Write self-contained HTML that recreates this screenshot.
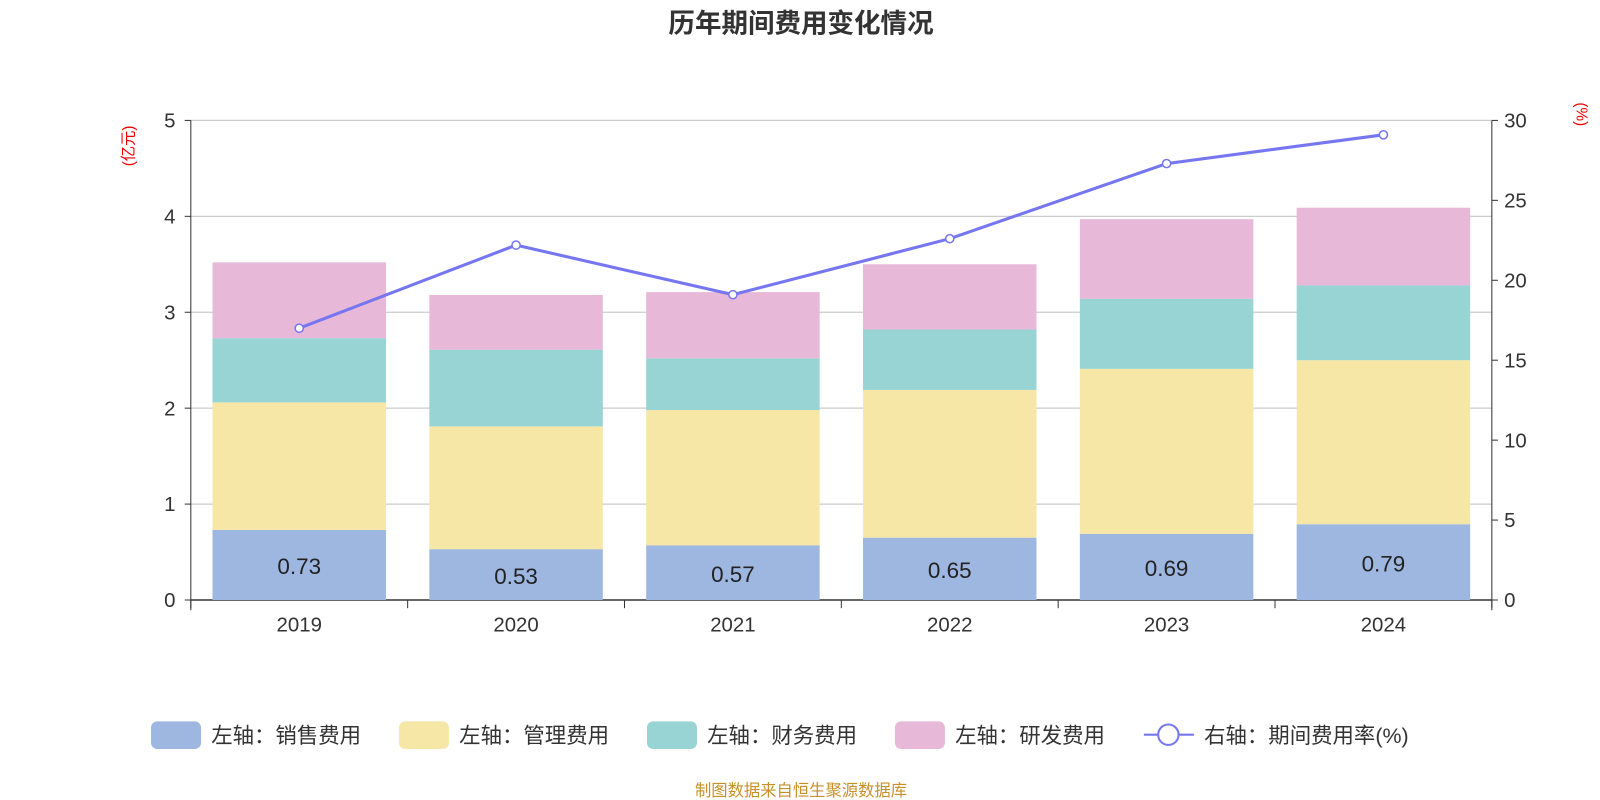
<!DOCTYPE html>
<html><head><meta charset="utf-8"><style>
html,body{margin:0;padding:0;background:#fff;}
svg{display:block;font-family:"Liberation Sans","Noto Sans CJK SC",sans-serif;}
</style></head><body>
<svg id="chart" width="1600" height="800" viewBox="0 0 1568 784"></svg>
<script>
const categories=["2019","2020","2021","2022","2023","2024"];
const sales=[0.73,0.53,0.57,0.65,0.69,0.79];
const admin=[1.33,1.28,1.41,1.54,1.72,1.71];
const finance=[0.67,0.80,0.54,0.63,0.73,0.78];
const rd=[0.79,0.57,0.69,0.68,0.83,0.81];
const rate=[17.0,22.2,19.1,22.6,27.3,29.1];
const leftTicks=[0,1,2,3,4,5];
const rightTicks=[0,5,10,15,20,25,30];

const NS="http://www.w3.org/2000/svg";
const svg=document.getElementById('chart');
const X0=187,X1=1462,Y0=588,Y1=118;
const bandW=(X1-X0)/categories.length;
const yL=v=>Y0-(v/5)*(Y0-Y1);
const yR=v=>Y0-(v/30)*(Y0-Y1);
const xC=i=>X0+bandW*(i+0.5);
function el(tag,attrs,parent){const e=document.createElementNS(NS,tag);for(const k in attrs)e.setAttribute(k,attrs[k]);(parent||svg).appendChild(e);return e;}
function txt(s,attrs){const t=el('text',attrs);t.textContent=s;return t;}

let t=txt("历年期间费用变化情况",{x:785,y:32,'text-anchor':'middle','font-size':26,'font-weight':'bold',fill:'#333'});



leftTicks.forEach(v=>{
  const g=el('line',{x1:X0,x2:X1,y1:yL(v),y2:yL(v),stroke:v===0?'#333':'#ccc','stroke-width':v===0?1.5:1.2});
  
  
  const l=txt(String(v),{x:172,y:yL(v)+7,'text-anchor':'end','font-size':20,fill:'#333'});
  
  
  el('line',{x1:X0-6,x2:X0,y1:yL(v),y2:yL(v),stroke:'#333'});
});
rightTicks.forEach(v=>{
  el('line',{x1:X1,x2:X1+6,y1:yR(v),y2:yR(v),stroke:'#333'});
  const l=txt(String(v),{x:1474,y:yR(v)+7,'font-size':20,fill:'#333'});
  
  
});
el('line',{x1:X0,x2:X0,y1:Y1,y2:Y0+10,stroke:'#333'});
el('line',{x1:X1,x2:X1,y1:Y1,y2:Y0+10,stroke:'#333'});
let a=txt("(亿元)",{x:0,y:0,'font-size':15,fill:'#e00','text-anchor':'middle',transform:'translate(131,143) rotate(-90)'});


a=txt("(%)",{x:0,y:0,'font-size':15,fill:'#e00','text-anchor':'middle',transform:'translate(1545,112) rotate(90)'});



for(let i=0;i<=categories.length;i++){el('line',{x1:X0+bandW*i,x2:X0+bandW*i,y1:Y0,y2:Y0+8,stroke:'#333'});}
categories.forEach((c,i)=>{
  const l=txt(c,{x:xC(i),y:619,'text-anchor':'middle','font-size':20,fill:'#333'});
  
  
});

const series=[[sales,'#9db7e0'],[admin,'#f7e7a7'],[finance,'#98d4d4'],[rd,'#e7b8d8']];
const barW=170;
categories.forEach((c,i)=>{
  let base=0;
  series.forEach(([arr,col],s)=>{
    const r=el('rect',{x:xC(i)-barW/2,y:yL(base+arr[i]),width:barW,height:yL(base)-yL(base+arr[i]),fill:col});
    
    
    base+=arr[i];
  });
  const l=txt(sales[i].toFixed(2),{x:xC(i),y:(yL(0)+yL(sales[i]))/2+9,'text-anchor':'middle','font-size':22,fill:'#222'});
  
  
});

const pl=el('polyline',{points:rate.map((v,i)=>xC(i)+','+yR(v)).join(' '),fill:'none',stroke:'#7576f0','stroke-width':3});


rate.forEach((v,i)=>{
  const c=el('circle',{cx:xC(i),cy:yR(v),r:4,fill:'#fff',stroke:'#7576f0','stroke-width':1.5});
  
  
});

const legend=[["左轴：销售费用",'#9db7e0',148],["左轴：管理费用",'#f7e7a7',391],["左轴：财务费用",'#98d4d4',634],["左轴：研发费用",'#e7b8d8',877]];
legend.forEach(([s,col,x])=>{
  const g=el('g',{});
  
  
  el('rect',{x:x,y:707,width:49,height:27,rx:6,fill:col},g);
  const l=el('text',{x:x+59,y:728,'font-size':21,fill:'#333'},g);l.textContent=s;
});
const g=el('g',{});


el('line',{x1:1121,x2:1170,y1:720,y2:720,stroke:'#7576f0','stroke-width':2},g);
el('circle',{cx:1145,cy:720,r:10,fill:'#fff',stroke:'#7576f0','stroke-width':2},g);
const lt=el('text',{x:1180,y:728,'font-size':21,fill:'#333'},g);lt.textContent="右轴：期间费用率(%)";

t=txt("制图数据来自恒生聚源数据库",{x:785,y:780,'text-anchor':'middle','font-size':16,fill:'#c9902a'});


</script>
</body></html>
